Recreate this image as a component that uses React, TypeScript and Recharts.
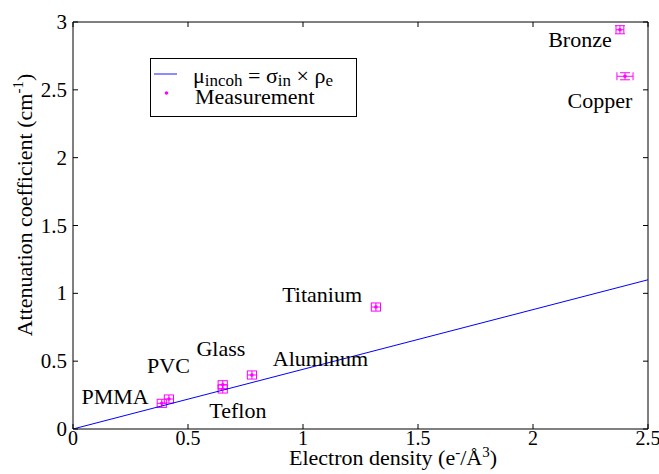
import React from 'react';
import { ScatterChart, Scatter, XAxis, YAxis, ErrorBar } from 'recharts';

const materials = ['PMMA', 'PVC', 'Glass', 'Teflon', 'Aluminum', 'Titanium', 'Bronze', 'Copper'];
const electronDensity = [0.386, 0.417, 0.651, 0.651, 0.778, 1.317, 2.378, 2.4];
const attenuation = [0.189, 0.221, 0.326, 0.295, 0.398, 0.899, 2.943, 2.6];
const densityError = [0.02, 0.02, 0.02, 0.02, 0.02, 0.02, 0.017, 0.035];
const attenuationError = [0.03, 0.03, 0.03, 0.03, 0.03, 0.03, 0.03, 0.026];

// annotation anchor (text centre, baseline) in data units
const labelX = [0.183, 0.415, 0.643, 0.717, 1.076, 1.083, 2.204, 2.291];
const labelY = [0.184, 0.413, 0.538, 0.081, 0.466, 0.936, 2.815, 2.365];

const fitX = [0, 2.5];
const fitY = [0, 1.1];

const xTicks = [0, 0.5, 1, 1.5, 2, 2.5];
const yTicks = [0, 0.5, 1, 1.5, 2, 2.5, 3];

const FONT = '"Liberation Serif", "Times New Roman", serif';
const MAGENTA = '#ff00ff';
const BLUE = '#0000ff';

const measurements = materials.map((m, i) => ({
  name: m,
  x: electronDensity[i],
  y: attenuation[i],
  ex: densityError[i],
  ey: attenuationError[i],
}));
const labels = materials.map((m, i) => ({ name: m, x: labelX[i], y: labelY[i] }));
const fit = fitX.map((x, i) => ({ x, y: fitY[i] }));

const BottomTick = (props: any) => {
  const { x, y, payload } = props;
  return (
    <g>
      <line x1={x} y1={y} x2={x} y2={y - 5} stroke="#000" />
      <text x={x} y={y + 16} textAnchor="middle" fontFamily={FONT} fontSize={20} fill="#000">
        {payload.value}
      </text>
    </g>
  );
};
const LeftTick = (props: any) => {
  const { x, y, payload } = props;
  return (
    <g>
      <line x1={x} y1={y} x2={x + 5} y2={y} stroke="#000" />
      <text x={x - 6} y={y + 7} textAnchor="end" fontFamily={FONT} fontSize={21} fill="#000">
        {payload.value}
      </text>
    </g>
  );
};
const TopTick = (props: any) => {
  const { x, y } = props;
  return <line x1={x} y1={y} x2={x} y2={y + 5} stroke="#000" />;
};
const RightTick = (props: any) => {
  const { x, y } = props;
  return <line x1={x} y1={y} x2={x - 5} y2={y} stroke="#000" />;
};

const Dot = (props: any) => {
  const { cx, cy } = props;
  return <circle cx={cx} cy={cy} r={1.8} fill={MAGENTA} />;
};
const TextMark = (props: any) => {
  const { cx, cy, payload } = props;
  return (
    <text x={cx} y={cy} textAnchor="middle" fontFamily={FONT} fontSize={22} fill="#000">
      {payload.name}
    </text>
  );
};
const Nothing = () => <g />;

const LegendBox = () => (
  <svg
    width={208}
    height={60}
    style={{ position: 'absolute', left: 150, top: 58 }}
  >
    <rect x={0.5} y={0.5} width={206} height={58} fill="#fff" stroke="#000" />
    <line x1={4} y1={16} x2={27} y2={16} stroke="#6666ff" strokeWidth={1.5} />
    <text x={43} y={25} fontFamily={FONT} fontSize={22} fill="#000">
      μ
      <tspan fontSize={17} dy={3}>incoh</tspan>
      <tspan dy={-3}> = σ</tspan>
      <tspan fontSize={17} dy={3}>in</tspan>
      <tspan dy={-3}> × ρ</tspan>
      <tspan fontSize={17} dy={3}>e</tspan>
    </text>
    <circle cx={16.5} cy={35} r={1.8} fill={MAGENTA} />
    <text x={45} y={46} fontFamily={FONT} fontSize={22} fill="#000">
      Measurement
    </text>
  </svg>
);

export default function App() {
  return (
    <div style={{ position: 'absolute', left: 0, top: 0, width: 659, height: 474, background: '#fff' }}>
      <ScatterChart width={659} height={474} margin={{ top: 0, right: 0, bottom: 0, left: 0 }}>
        <XAxis
          xAxisId="b"
          dataKey="x"
          type="number"
          domain={[0, 2.5]}
          ticks={xTicks}
          interval={0}
          height={45}
          tickSize={0}
          tickMargin={0}
          tickLine={false}
          axisLine={{ stroke: '#000' }}
          tick={BottomTick}
          allowDataOverflow
        />
        <XAxis
          xAxisId="t"
          orientation="top"
          dataKey="x"
          type="number"
          domain={[0, 2.5]}
          ticks={xTicks}
          interval={0}
          height={22}
          tickSize={0}
          tickMargin={0}
          tickLine={false}
          axisLine={{ stroke: '#000' }}
          tick={TopTick}
          allowDataOverflow
        />
        <YAxis
          yAxisId="l"
          dataKey="y"
          type="number"
          domain={[0, 3]}
          ticks={yTicks}
          interval={0}
          width={73}
          tickSize={0}
          tickMargin={0}
          tickLine={false}
          axisLine={{ stroke: '#000' }}
          tick={LeftTick}
          allowDataOverflow
          label={{
            content: () => (
              <text
                transform="translate(32, 205) rotate(-90)"
                textAnchor="middle"
                fontFamily={FONT}
                fontSize={22}
                fill="#000"
              >
                Attenuation coefficient (cm
                <tspan fontSize={15} dy={-9}>-1</tspan>
                <tspan dy={9}>)</tspan>
              </text>
            ),
          }}
        />
        <YAxis
          yAxisId="r"
          orientation="right"
          dataKey="y"
          type="number"
          domain={[0, 3]}
          ticks={yTicks}
          interval={0}
          width={11}
          tickSize={0}
          tickMargin={0}
          tickLine={false}
          axisLine={{ stroke: '#000' }}
          tick={RightTick}
          allowDataOverflow
        />
        <Scatter xAxisId="t" yAxisId="r" data={fit} shape={Nothing} isAnimationActive={false} />
        <Scatter
          xAxisId="b"
          yAxisId="l"
          data={fit}
          line={{ stroke: BLUE, strokeWidth: 1 }}
          shape={Nothing}
          isAnimationActive={false}
        />
        <Scatter xAxisId="b" yAxisId="l" data={measurements} shape={Dot} isAnimationActive={false}>
          <ErrorBar dataKey="ex" direction="x" width={4} stroke={MAGENTA} strokeWidth={1} isAnimationActive={false} />
          <ErrorBar dataKey="ey" direction="y" width={5} stroke={MAGENTA} strokeWidth={1} isAnimationActive={false} />
        </Scatter>
        <Scatter xAxisId="b" yAxisId="l" data={labels} shape={TextMark} isAnimationActive={false} />
      </ScatterChart>
      <div
        style={{
          position: 'absolute',
          left: 289,
          top: 447,
          fontFamily: FONT,
          fontSize: 22,
          whiteSpace: 'nowrap',
          lineHeight: '22px',
          color: '#000',
        }}
      >
        Electron density (e<sup style={{ fontSize: 15, verticalAlign: 'top', lineHeight: '10px' }}>-</sup>/Å
        <sup style={{ fontSize: 15, verticalAlign: 'top', lineHeight: '10px' }}>3</sup>)
      </div>
      <LegendBox />
    </div>
  );
}
